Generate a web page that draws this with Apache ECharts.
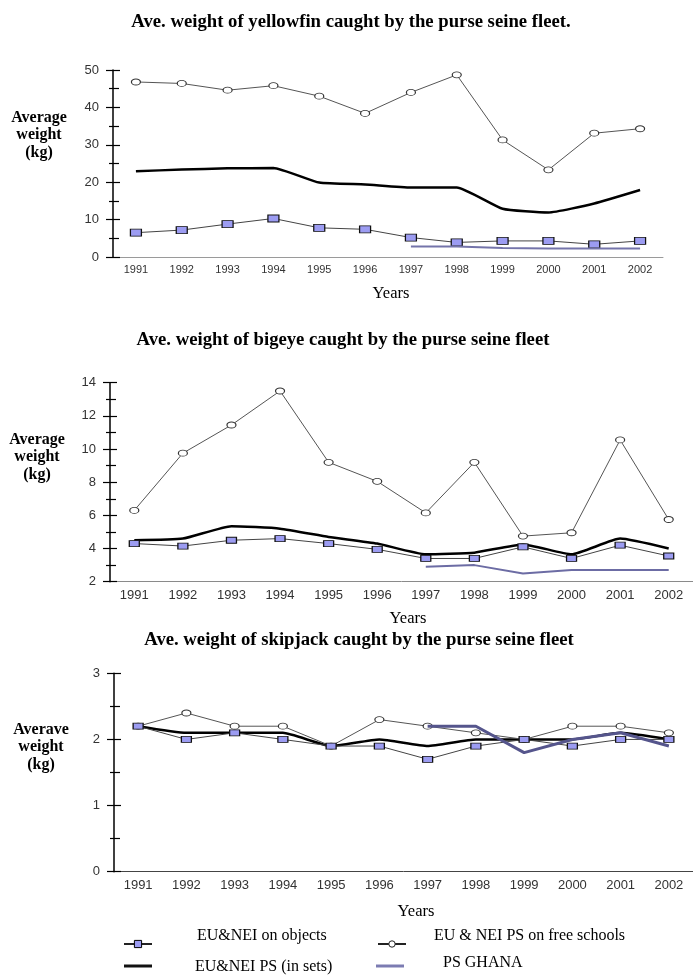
<!DOCTYPE html>
<html>
<head>
<meta charset="utf-8">
<script src="https://cdn.jsdelivr.net/npm/echarts@6/dist/echarts.min.js"></script>
<style>
  html, body { margin: 0; padding: 0; background: #fff; }
  #chart { width: 693px; height: 975px; }
</style>
</head>
<body>
<div id="chart"></div>
<script>
// Years on the category axis
const years = ['1991', '1992', '1993', '1994', '1995', '1996', '1997', '1998', '1999', '2000', '2001', '2002'];

// Series names
const nameObjects = 'EU&NEI on objects';
const nameFree = 'EU & NEI PS on free schools';
const nameSets = 'EU&NEI PS (in sets)';
const nameGhana = 'PS GHANA';

// Yellowfin average weight (kg)
const yfObjects = [6.5, 7.2, 8.8, 10.3, 7.8, 7.4, 5.2, 3.9, 4.3, 4.3, 3.4, 4.3];
const yfFree = [46.8, 46.4, 44.6, 45.8, 43.0, 38.4, 44.0, 48.7, 31.3, 23.3, 33.1, 34.3];
const yfSets = [22.9, 23.4, 23.7, 23.8, 19.9, 19.4, 18.6, 18.6, 12.9, 11.9, 14.3, 17.9];
const yfGhana = [null, null, null, null, null, null, 2.8, 2.8, 2.4, 2.3, 2.3, 2.3];

// Bigeye average weight (kg)
const beObjects = [4.3, 4.15, 4.5, 4.6, 4.3, 3.95, 3.4, 3.4, 4.1, 3.4, 4.2, 3.55];
const beFree = [6.3, 9.75, 11.45, 13.5, 9.2, 8.05, 6.15, 9.2, 4.75, 4.95, 10.55, 5.75];
const beSets = [4.5, 4.6, 5.35, 5.2, 4.7, 4.3, 3.65, 3.75, 4.25, 3.65, 4.6, 4.0];
const beGhana = [null, null, null, null, null, null, 2.9, 3.0, 2.5, 2.7, 2.7, 2.7];

// Skipjack average weight (kg)
const skObjects = [2.2, 2.0, 2.1, 2.0, 1.9, 1.9, 1.7, 1.9, 2.0, 1.9, 2.0, 2.0];
const skFree = [2.2, 2.4, 2.2, 2.2, 1.9, 2.3, 2.2, 2.1, 2.0, 2.2, 2.2, 2.1];
const skSets = [2.2, 2.1, 2.1, 2.1, 1.9, 2.0, 1.9, 2.0, 2.0, 2.0, 2.1, 2.0];
const skGhana = [null, null, null, null, null, null, 2.2, 2.2, 1.8, 2.0, 2.1, 1.9];

// Chart titles and axis captions
const titles = [
  'Ave. weight of yellowfin caught by the purse seine fleet.',
  'Ave. weight of bigeye caught by the purse seine fleet',
  'Ave. weight of skipjack caught by the purse seine fleet'
];
const yNames = ['Average\nweight\n(kg)', 'Average\nweight\n(kg)', 'Averave\nweight\n(kg)'];
const xName = 'Years';

const SERIF = '"Liberation Serif", "Times New Roman", serif';
const SANS = '"Liberation Sans", Arial, sans-serif';

// Colours
const OBJ_FILL = '#9c9cf2';
const GHANA_LIGHT = '#7c7cb2';

// Panel layout: grid box, y scale and label sizes
const panels = [
  { grid: { left: 113, top: 70, width: 550, height: 187 }, min: 0, max: 50, interval: 10,
    data: [yfSets, yfFree, yfObjects, yfGhana], xColor: '#9a9a9a', fs: 11, ghanaW: 2, ghanaC: '#7474aa',
    titleY: 22, titleX: 351, nameX: 39, nameY: 118, yearsX: 391, yearsY: 294, sym: [11, 7] },
  { grid: { left: 110, top: 382.7, width: 583, height: 199 }, min: 2, max: 14, interval: 2,
    data: [beSets, beFree, beObjects, beGhana], xColor: '#8a8a8a', fs: 13, ghanaW: 2, ghanaC: '#6c6ca4',
    titleY: 340, titleX: 343, nameX: 37, nameY: 440, yearsX: 408, yearsY: 619, sym: [10, 6] },
  { grid: { left: 114, top: 673.3, width: 584, height: 198.4 }, min: 0, max: 3, interval: 1,
    data: [skSets, skFree, skObjects, skGhana], xColor: '#444', fs: 13, ghanaW: 3, ghanaC: '#55558c',
    titleY: 640, titleX: 359, nameX: 41, nameY: 730, yearsX: 416, yearsY: 912, sym: [10, 6] }
];

const grids = [], xAxes = [], yAxes = [], series = [], graphics = [];

panels.forEach((p, i) => {
  grids.push(Object.assign({ containLabel: false }, p.grid));
  // main category axis (labels and downward ticks)
  xAxes.push({
    type: 'category', gridIndex: i, data: years, position: 'bottom', boundaryGap: true,
    axisLine: { lineStyle: { color: p.xColor, width: 1 } },
    axisTick: { alignWithLabel: true, length: 3, lineStyle: { color: p.xColor } },
    axisLabel: { color: '#333', fontFamily: SANS, fontSize: p.fs, margin: 7 },
    splitLine: { show: false }
  });
  // companion axis drawing the upward part of the ticks
  xAxes.push({
    type: 'category', gridIndex: i, data: years, position: 'bottom', boundaryGap: true,
    axisLine: { show: false },
    axisTick: { alignWithLabel: true, inside: true, length: 6, lineStyle: { color: p.xColor } },
    axisLabel: { show: false }, splitLine: { show: false }
  });
  // value axis with outward ticks
  yAxes.push({
    type: 'value', gridIndex: i, position: 'left', min: p.min, max: p.max, interval: p.interval,
    axisLine: { show: true, lineStyle: { color: '#000', width: 1.5 } },
    axisTick: { show: true, length: 7, lineStyle: { color: '#000', width: 1.2 } },
    minorTick: { show: true, splitNumber: 2, length: 4, lineStyle: { color: '#000', width: 1.2 } },
    axisLabel: { color: '#333', fontFamily: SANS, fontSize: 13, margin: 14 },
    splitLine: { show: false }
  });
  // companion value axis for the inward half of the ticks
  yAxes.push({
    type: 'value', gridIndex: i, position: 'left', min: p.min, max: p.max, interval: p.interval,
    axisLine: { show: false },
    axisTick: { show: true, inside: true, length: 7, lineStyle: { color: '#000', width: 1.2 } },
    minorTick: { show: true, splitNumber: 2, length: 6, lineStyle: { color: '#000', width: 1.2 } },
    axisLabel: { show: false }, splitLine: { show: false }
  });

  const xi = i * 2, yi = i * 2;
  const [sets, free, objects, ghana] = p.data;
  series.push({
    name: nameSets, type: 'line', xAxisIndex: xi, yAxisIndex: yi, data: sets,
    symbol: 'none', smooth: 0.15, lineStyle: { color: '#000', width: 2.5 }, itemStyle: { color: '#000' }, z: 2
  });
  series.push({
    name: nameFree, type: 'line', xAxisIndex: xi, yAxisIndex: yi, data: free,
    symbol: 'circle', symbolSize: [9, 6], showSymbol: true,
    lineStyle: { color: '#555', width: 1 },
    itemStyle: { color: '#fff', borderColor: '#333', borderWidth: 1 }, z: 3
  });
  series.push({
    name: nameObjects, type: 'line', xAxisIndex: xi, yAxisIndex: yi, data: objects,
    symbol: 'rect', symbolSize: p.sym, showSymbol: true,
    lineStyle: { color: '#444', width: 1 },
    itemStyle: { color: OBJ_FILL, borderColor: '#111', borderWidth: 1 }, z: 4
  });
  series.push({
    name: nameGhana, type: 'line', xAxisIndex: xi, yAxisIndex: yi, data: ghana,
    symbol: 'none', connectNulls: false,
    lineStyle: { color: p.ghanaC, width: p.ghanaW }, itemStyle: { color: p.ghanaC }, z: 5
  });

  graphics.push({
    type: 'text', x: p.titleX, y: p.titleY,
    style: { text: titles[i], font: 'bold 18.7px ' + SERIF, fill: '#000', textAlign: 'center', textVerticalAlign: 'middle' }
  });
  graphics.push({
    type: 'text', x: p.nameX, y: p.nameY - 9,
    style: { text: yNames[i], font: 'bold 16px ' + SERIF, fill: '#000', textAlign: 'center', textVerticalAlign: 'top', lineHeight: 17.5 }
  });
  graphics.push({
    type: 'text', x: p.yearsX, y: p.yearsY,
    style: { text: xName, font: '16.5px ' + SERIF, fill: '#000', textAlign: 'center', textVerticalAlign: 'middle' }
  });
});

// Legend: icons from the library, captions placed beside them
const legendItems = [
  { name: nameObjects, left: 123, cy: 944, kind: 'obj', tx: 197, ty: 936 },
  { name: nameFree, left: 377, cy: 944, kind: 'free', tx: 434, ty: 936 },
  { name: nameSets, left: 124, cy: 966, kind: 'sets', tx: 195, ty: 967 },
  { name: nameGhana, left: 376, cy: 966, kind: 'ghana', tx: 443, ty: 963 }
];
const legendLook = {
  obj: { h: 9, itemStyle: { color: OBJ_FILL, borderColor: '#000', borderWidth: 1 }, lineStyle: { color: '#222', width: 2 } },
  free: { h: 8, itemStyle: { color: '#fff', borderColor: '#222', borderWidth: 1 }, lineStyle: { color: '#222', width: 2 } },
  sets: { h: 3, icon: 'rect', itemStyle: { color: '#111' } },
  ghana: { h: 3, icon: 'rect', itemStyle: { color: GHANA_LIGHT } }
};
const legends = legendItems.map(it => {
  const look = legendLook[it.kind];
  const item = { name: it.name, itemStyle: look.itemStyle };
  if (look.icon) item.icon = look.icon;
  if (look.lineStyle) item.lineStyle = look.lineStyle;
  return {
    data: [item], left: it.left, top: it.cy - look.h / 2, padding: 0, selectedMode: false,
    itemWidth: 28, itemHeight: look.h,
    formatter: () => '', textStyle: { fontSize: 1 }
  };
});
legendItems.forEach(it => {
  graphics.push({
    type: 'text', x: it.tx, y: it.ty,
    style: { text: it.name, font: '16px ' + SERIF, fill: '#000', textAlign: 'left', textVerticalAlign: 'middle' }
  });
});

const chart = echarts.init(document.getElementById('chart'), null, { renderer: 'canvas' });
chart.setOption({
  animation: false,
  backgroundColor: '#fff',
  grid: grids,
  xAxis: xAxes,
  yAxis: yAxes,
  legend: legends,
  series: series,
  graphic: graphics
});
</script>
</body>
</html>
